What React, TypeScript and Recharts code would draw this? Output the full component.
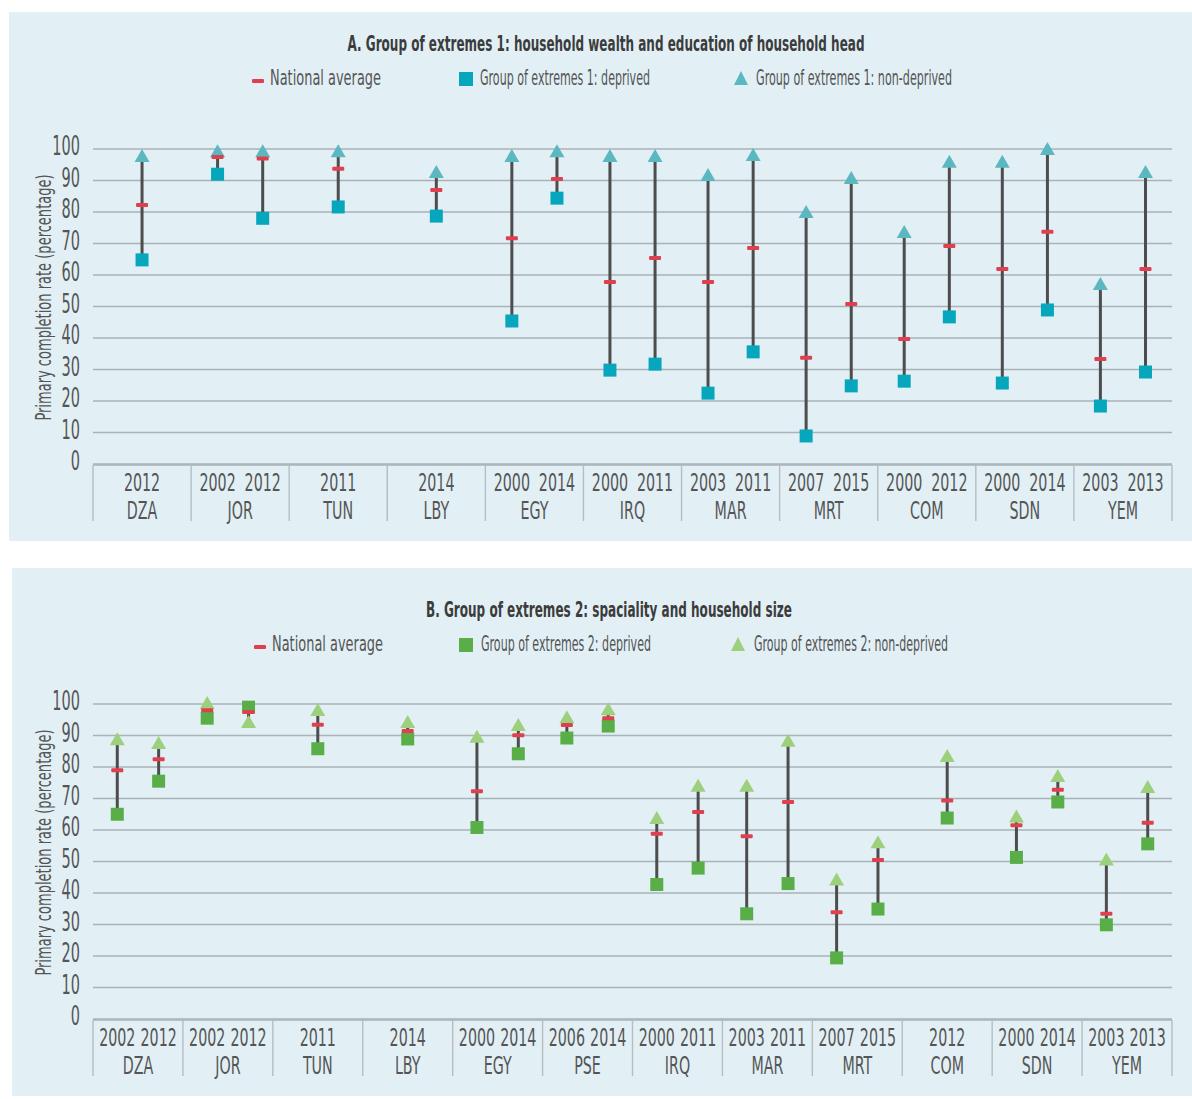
import React from 'react';
import { ComposedChart, Scatter, XAxis, YAxis, CartesianGrid, ErrorBar } from 'recharts';

const FONT = '"Liberation Sans Narrow", "Arial Narrow", "DejaVu Sans Condensed", sans-serif';
const TEXT = '#555555';
const TITLE = '#3c3c3c';
const GRID = '#a9b2b7';
const SEP = '#b5bdc1';
const STEM = '#4d4d4d';
const RED = '#e0404e';
const PANEL_BG = '#e2f0f6';

// Panel A: household wealth and education of household head
const countriesA = ['DZA', 'JOR', 'TUN', 'LBY', 'EGY', 'IRQ', 'MAR', 'MRT', 'COM', 'SDN', 'YEM'];
const yearsA = [
  ['2012'], ['2002', '2012'], ['2011'], ['2014'], ['2000', '2014'], ['2000', '2011'],
  ['2003', '2011'], ['2007', '2015'], ['2000', '2012'], ['2000', '2014'], ['2003', '2013'],
];
const nationalA = [82.2, 97.5, 97, 93.7, 87, 71.7, 90.5, 57.8, 65.4, 57.8, 68.6, 33.7, 50.8, 39.7, 69.2, 61.9, 73.7, 33.3, 61.9];
const deprivedA = [64.8, 92, 78, 81.6, 78.7, 45.4, 84.4, 29.8, 31.7, 22.5, 35.6, 8.9, 24.8, 26.3, 46.7, 25.7, 48.9, 18.4, 29.2];
const nonDeprivedA = [97.5, 99, 99, 99, 92.4, 97.5, 99, 97.5, 97.5, 91.4, 97.8, 79.7, 90.5, 73.3, 95.6, 95.6, 99.7, 56.8, 92.4];

// Panel B: spaciality and household size
const countriesB = ['DZA', 'JOR', 'TUN', 'LBY', 'EGY', 'PSE', 'IRQ', 'MAR', 'MRT', 'COM', 'SDN', 'YEM'];
const yearsB = [
  ['2002', '2012'], ['2002', '2012'], ['2011'], ['2014'], ['2000', '2014'], ['2006', '2014'],
  ['2000', '2011'], ['2003', '2011'], ['2007', '2015'], ['2012'], ['2000', '2014'], ['2003', '2013'],
];
const nationalB = [79, 82.5, 98, 97.5, 93.4, 91.4, 72.3, 90.1, 93.3, 95.5, 58.8, 65.7, 58, 68.9, 33.9, 50.5, 69.4, 61.5, 72.8, 33.4, 62.3];
const deprivedB = [65, 75.5, 95.5, 99, 85.8, 88.9, 60.8, 84.2, 89.2, 93, 42.7, 47.9, 33.4, 43, 19.4, 34.9, 63.8, 51.3, 68.9, 29.9, 55.6];
const nonDeprivedB = [88.5, 87.3, 100, 94, 97.8, 94, 89.3, 93, 95.5, 98, 63.5, 73.7, 73.7, 88, 44, 55.8, 83.2, 64, 76.8, 50.3, 73.3];

const yTicks = [0, 10, 20, 30, 40, 50, 60, 70, 80, 90, 100];

// place the survey years inside their country block
function layoutX(years: string[][]) {
  const xs: number[] = [];
  const labels: string[] = [];
  years.forEach((ys, i) => {
    if (ys.length === 1) {
      xs.push(i + 0.5);
      labels.push(ys[0]);
    } else {
      xs.push(i + 0.27, i + 0.73);
      labels.push(ys[0], ys[1]);
    }
  });
  return { xs, labels };
}

const SText = ({ x, y, k = 1, size, children, anchor = 'middle', weight = 400, fill = TEXT, rotate = 0, len }: any) => (
  <text
    transform={`translate(${x},${y})${rotate ? ` rotate(${rotate})` : ''} scale(${k},1)`}
    x={0}
    y={0}
    textAnchor={anchor}
    dominantBaseline="central"
    fontFamily={FONT}
    fontSize={size}
    fontWeight={weight}
    fill={fill}
    textLength={len}
    lengthAdjust={len ? 'spacingAndGlyphs' : undefined}
  >
    {children}
  </text>
);

const squareShape = (color: string) => (p: any) => (
  <rect x={p.cx - 6.5} y={p.cy - 6.5} width={13} height={13} fill={color} />
);
const triShape = (color: string) => (p: any) => (
  <polygon points={`${p.cx},${p.cy - 8} ${p.cx + 7.5},${p.cy + 5} ${p.cx - 7.5},${p.cy + 5}`} fill={color} />
);
const dashShape = (p: any) => <rect x={p.cx - 6} y={p.cy - 2} width={12} height={4} rx={1} fill={RED} />;
const noShape = () => <g />;
const noTick = () => <g />;

interface PanelProps {
  countries: string[];
  years: string[][];
  national: number[];
  deprived: number[];
  nonDeprived: number[];
  sqColor: string;
  triColor: string;
  top: number;
}

const Panel = ({ countries, years, national, deprived, nonDeprived, sqColor, triColor, top }: PanelProps) => {
  const { xs, labels } = layoutX(years);
  const n = countries.length;
  const natData = xs.map((x, i) => ({ x, y: national[i] }));
  const depData = xs.map((x, i) => ({ x, y: deprived[i] }));
  const nonData = xs.map((x, i) => ({ x, y: nonDeprived[i] }));
  const stemData = xs.map((x, i) => {
    const lo = Math.min(deprived[i], nonDeprived[i], national[i]);
    const hi = Math.max(deprived[i], nonDeprived[i], national[i]);
    return { x, y: lo, err: [0, hi - lo] };
  });
  const centers = countries.map((_, i) => i + 0.5);
  const bounds = Array.from({ length: n + 1 }, (_, i) => i);
  // invisible anchors so the country and separator axes have data of their own
  const centerData = centers.map((x) => ({ x, y: 0 }));
  const boundData = bounds.map((x) => ({ x, y: 0 }));

  return (
    <div style={{ position: 'absolute', left: 9, top, width: 1183, height: 410 }}>
      <ComposedChart width={1183} height={410} margin={{ top: 27, right: 20, bottom: 65, left: 24 }}>
        <CartesianGrid xAxisId="yr" yAxisId="v" vertical={false} stroke={GRID} strokeWidth={1.4} />
        <XAxis
          xAxisId="yr"
          type="number"
          dataKey="x"
          domain={[0, n]}
          ticks={xs}
          interval={0}
          height={1}
          axisLine={false}
          tickLine={false}
          tickSize={0}
          tickMargin={0}
          tick={(p: any) => (
            <SText x={p.x} y={p.y + 17} k={0.66} size={24}>{labels[p.index]}</SText>
          )}
        />
        <XAxis
          xAxisId="ct"
          type="number"
          dataKey="x"
          domain={[0, n]}
          ticks={centers}
          interval={0}
          height={1}
          axisLine={false}
          tickLine={false}
          tickSize={0}
          tickMargin={0}
          tick={(p: any) => (
            <SText x={p.x} y={p.y + 47} k={0.66} size={24}>{countries[p.index]}</SText>
          )}
        />
        <XAxis
          xAxisId="sep"
          type="number"
          dataKey="x"
          domain={[0, n]}
          ticks={bounds}
          interval={0}
          height={1}
          axisLine={{ stroke: GRID, strokeWidth: 1.4 }}
          tickLine={{ stroke: SEP, strokeWidth: 1.4 }}
          tickSize={56}
          tick={noTick}
        />
        <YAxis
          yAxisId="v"
          type="number"
          dataKey="y"
          domain={[0, 100]}
          ticks={yTicks}
          interval={0}
          width={60}
          axisLine={false}
          tickLine={false}
          tickSize={0}
          tickMargin={13}
          tick={(p: any) => (
            <SText x={p.x} y={p.y - 3} k={0.62} size={26} anchor="end">{p.payload.value}</SText>
          )}
          label={{
            content: (lp: any) => {
              const vb = lp.viewBox;
              return (
                <SText x={vb.x + 10} y={vb.y + vb.height / 2 - 9} size={21} k={0.69} rotate={-90}>
                  Primary completion rate (percentage)
                </SText>
              );
            },
          }}
        />
        <Scatter xAxisId="ct" yAxisId="v" data={centerData} shape={noShape} isAnimationActive={false} legendType="none" />
        <Scatter xAxisId="sep" yAxisId="v" data={boundData} shape={noShape} isAnimationActive={false} legendType="none" />
        <Scatter xAxisId="yr" yAxisId="v" data={stemData} shape={noShape} isAnimationActive={false} legendType="none">
          <ErrorBar dataKey="err" direction="y" width={0} stroke={STEM} strokeWidth={3} isAnimationActive={false} />
        </Scatter>
        <Scatter xAxisId="yr" yAxisId="v" data={depData} shape={squareShape(sqColor)} isAnimationActive={false} />
        <Scatter xAxisId="yr" yAxisId="v" data={nonData} shape={triShape(triColor)} isAnimationActive={false} />
        <Scatter xAxisId="yr" yAxisId="v" data={natData} shape={dashShape} isAnimationActive={false} />
      </ComposedChart>
    </div>
  );
};

const Header = ({ title, titleX, titleY, titleLen, legendY, items }: any) => (
  <g>
    <SText x={titleX} y={titleY} size={21} weight={700} fill={TITLE} len={titleLen}>{title}</SText>
    {items.map((it: any) => (
      <g key={it.label}>
        {it.kind === 'dash' && <rect x={it.ix - 6} y={legendY + 1} width={12} height={4} rx={1} fill={RED} />}
        {it.kind === 'square' && <rect x={it.ix - 7} y={legendY - 6} width={14} height={14} fill={it.color} />}
        {it.kind === 'tri' && (
          <polygon points={`${it.ix},${legendY - 7} ${it.ix + 7},${legendY + 7} ${it.ix - 7},${legendY + 7}`} fill={it.color} />
        )}
        <SText x={it.tx} y={legendY - 1} size={22} anchor="start" len={it.len}>{it.label}</SText>
      </g>
    ))}
  </g>
);

export default function App() {
  return (
    <div style={{ position: 'absolute', left: 0, top: 0, width: 1192, height: 1099, background: '#ffffff', overflow: 'hidden' }}>
      <div style={{ position: 'absolute', left: 9, top: 12, width: 1183, height: 529, background: PANEL_BG }} />
      <div style={{ position: 'absolute', left: 12, top: 568, width: 1180, height: 528, background: PANEL_BG }} />
      <svg style={{ position: 'absolute', left: 0, top: 0 }} width={1192} height={1099}>
        <Header
          title="A. Group of extremes 1: household wealth and education of household head"
          titleX={606}
          titleY={44}
          titleLen={517}
          legendY={78}
          items={[
            { kind: 'dash', ix: 258, tx: 270, len: 111, label: 'National average' },
            { kind: 'square', ix: 466, tx: 480, len: 170, color: '#06a7bd', label: 'Group of extremes 1: deprived' },
            { kind: 'tri', ix: 741, tx: 756, len: 196, color: '#5cb8c0', label: 'Group of extremes 1: non-deprived' },
          ]}
        />
        <Header
          title="B. Group of extremes 2: spaciality and household size"
          titleX={609}
          titleY={610}
          titleLen={366}
          legendY={644}
          items={[
            { kind: 'dash', ix: 260, tx: 272, len: 111, label: 'National average' },
            { kind: 'square', ix: 466, tx: 481, len: 170, color: '#5aae48', label: 'Group of extremes 2: deprived' },
            { kind: 'tri', ix: 738, tx: 754, len: 194, color: '#9dd07c', label: 'Group of extremes 2: non-deprived' },
          ]}
        />
      </svg>
      <Panel
        countries={countriesA}
        years={yearsA}
        national={nationalA}
        deprived={deprivedA}
        nonDeprived={nonDeprivedA}
        sqColor="#06a7bd"
        triColor="#5cb8c0"
        top={122}
      />
      <Panel
        countries={countriesB}
        years={yearsB}
        national={nationalB}
        deprived={deprivedB}
        nonDeprived={nonDeprivedB}
        sqColor="#5aae48"
        triColor="#9dd07c"
        top={677}
      />
    </div>
  );
}
